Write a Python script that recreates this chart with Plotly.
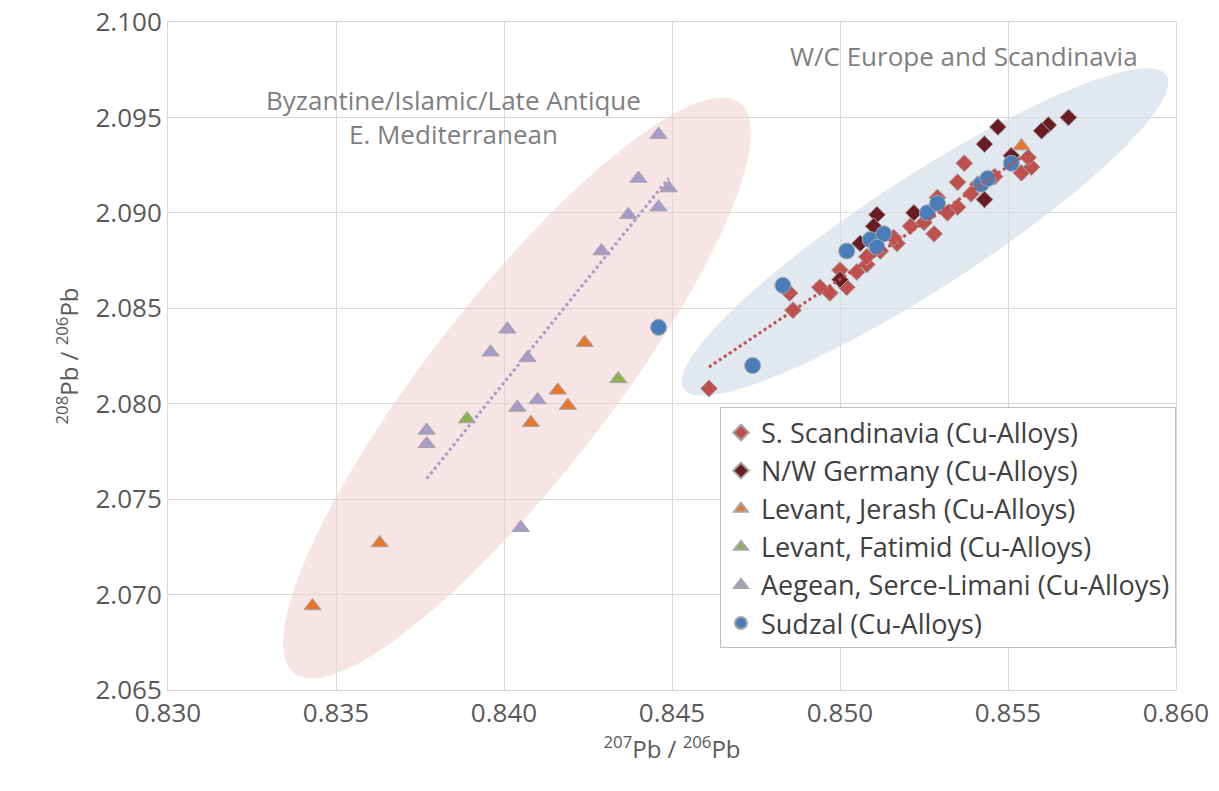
import numpy as np
import plotly.graph_objects as go

# S. Scandinavia (Cu-Alloys)
scand_x = [0.8461, 0.8486, 0.8485, 0.8494, 0.8497, 0.8502, 0.8505, 0.8508, 0.8512, 0.8517,
           0.8521, 0.8525, 0.8528, 0.8529, 0.8535, 0.8535, 0.8537, 0.8539, 0.8541, 0.8554,
           0.8557, 0.8556, 0.8508, 0.8516, 0.8532, 0.8500, 0.8546]
scand_y = [2.0808, 2.0849, 2.0858, 2.0861, 2.0858, 2.0861, 2.0869, 2.0873, 2.0880, 2.0884,
           2.0893, 2.0895, 2.0889, 2.0908, 2.0903, 2.0916, 2.0926, 2.0910, 2.0915, 2.0921,
           2.0924, 2.0929, 2.0877, 2.0887, 2.0900, 2.0870, 2.0919]
# N/W Germany (Cu-Alloys)
germ_x = [0.8568, 0.8562, 0.8560, 0.8547, 0.8543, 0.8543, 0.8511, 0.8522, 0.8510, 0.8506, 0.8500, 0.8551]
germ_y = [2.0950, 2.0946, 2.0943, 2.0945, 2.0936, 2.0907, 2.0899, 2.0900, 2.0893, 2.0884, 2.0865, 2.0930]
# Levant, Jerash (Cu-Alloys)
jerash_x = [0.8424, 0.8416, 0.8419, 0.8408, 0.8363, 0.8343, 0.8554]
jerash_y = [2.0832, 2.0807, 2.0799, 2.0790, 2.0727, 2.0694, 2.0935]
# Levant, Fatimid (Cu-Alloys)
fatimid_x = [0.8389, 0.8434]
fatimid_y = [2.0792, 2.0813]
# Aegean, Serce-Limani (Cu-Alloys)
aegean_x = [0.8446, 0.8440, 0.8449, 0.8446, 0.8437, 0.8429, 0.8401, 0.8396, 0.8407, 0.8404,
            0.8410, 0.8377, 0.8377, 0.8405]
aegean_y = [2.0941, 2.0918, 2.0913, 2.0903, 2.0899, 2.0880, 2.0839, 2.0827, 2.0824, 2.0798,
            2.0802, 2.0786, 2.0779, 2.0735]
# Sudzal (Cu-Alloys)
sudzal_x = [0.8446, 0.8483, 0.8474, 0.8502, 0.8509, 0.8513, 0.8511, 0.8526, 0.8529, 0.8542, 0.8544, 0.8551]
sudzal_y = [2.0840, 2.0862, 2.0820, 2.0880, 2.0886, 2.0889, 2.0882, 2.0900, 2.0905, 2.0915, 2.0918, 2.0926]
y_ticks = [2.065, 2.070, 2.075, 2.080, 2.085, 2.090, 2.095, 2.100]

# plot area in pixels (page coords), used to draw the rotated ellipses
L, R, T, B = 168, 1176, 22, 690
X0, X1, Y0, Y1 = 0.830, 0.8600001, 2.065, 2.1000001
PAD = 8  # body margin of the page


def ellipse_path(cx, cy, a, b, ang):
    t = np.linspace(0, 2 * np.pi, 80)
    th = np.radians(ang)
    px = cx + a * np.cos(t) * np.cos(th) - b * np.sin(t) * np.sin(th)
    py = cy - (a * np.cos(t) * np.sin(th) + b * np.sin(t) * np.cos(th))
    xs = X0 + (px - L) / (R - L) * (X1 - X0)
    ys = Y1 - (py - T) / (B - T) * (Y1 - Y0)
    return "M " + " L ".join(f"{x:.6f},{y:.6f}" for x, y in zip(xs, ys)) + " Z"


fig = go.Figure()

line_col = "#a6a6a6"
series = [
    ("S. Scandinavia (Cu-Alloys)", scand_x, scand_y, "diamond", "#C0504D", 13),
    ("N/W Germany (Cu-Alloys)", germ_x, germ_y, "diamond", "#6B1C22", 13),
    ("Levant, Jerash (Cu-Alloys)", jerash_x, jerash_y, "triangle-up", "#E8762B", 15),
    ("Levant, Fatimid (Cu-Alloys)", fatimid_x, fatimid_y, "triangle-up", "#8DB255", 15),
    ("Aegean, Serce-Limani (Cu-Alloys)", aegean_x, aegean_y, "triangle-up", "#A99BC8", 15),
    ("Sudzal (Cu-Alloys)", sudzal_x, sudzal_y, "circle", "#4A7EBB", 16),
]
for name, xs, ys, sym, col, sz in series:
    fig.add_trace(go.Scatter(x=xs, y=ys, mode="markers", name=name,
                             marker=dict(symbol=sym, color=col, size=sz,
                                         line=dict(color=line_col, width=1))))

# dotted trend lines
for xs, ys, col in [(aegean_x, aegean_y, "#A99BC8"), (scand_x, scand_y, "#C0504D")]:
    k, c = np.polyfit(xs, ys, 1)
    tx = np.array([min(xs), max(xs)])
    fig.add_trace(go.Scatter(x=tx, y=k * tx + c, mode="lines", showlegend=False,
                             line=dict(color=col, width=3, dash="dot"), hoverinfo="skip"))

fig.add_shape(type="path", path=ellipse_path(517, 388, 362, 90, 52),
              fillcolor="rgba(232,180,180,0.35)", line=dict(width=0), layer="below")
fig.add_shape(type="path", path=ellipse_path(925, 232, 288, 56, 33),
              fillcolor="rgba(170,190,210,0.35)", line=dict(width=0), layer="below")

fig.add_annotation(x=0.8385, y=2.0950, text="Byzantine/Islamic/Late Antique<br>E. Mediterranean",
                   showarrow=False, font=dict(size=26, color="#7f7f7f"))
fig.add_annotation(x=0.8537, y=2.0982, text="W/C Europe and Scandinavia",
                   showarrow=False, font=dict(size=26, color="#7f7f7f"))

fig.update_layout(
    width=1219, height=791,
    margin=dict(l=L - PAD, r=1219 - R + PAD, t=T - PAD, b=791 - B + PAD, autoexpand=False),
    paper_bgcolor="white", plot_bgcolor="white",
    font=dict(family="Open Sans, sans-serif", size=26, color="#595959"),
    xaxis=dict(range=[X0, X1], dtick=0.005, tickformat=".3f", showgrid=True,
               gridcolor="#d9d9d9", zeroline=False, ticks="", showline=True,
               linecolor="#d9d9d9", mirror=True, automargin=False,
               tickfont=dict(size=26), ticklabeloverflow="allow",
               title=dict(text="<sup>207</sup>Pb / <sup>206</sup>Pb", standoff=6,
                          font=dict(size=24))),
    yaxis=dict(range=[Y0, Y1], tickmode="array", tickvals=y_ticks,
               ticktext=[f"{v:.3f}" for v in y_ticks], showgrid=True,
               gridcolor="#d9d9d9", zeroline=False, ticks="", showline=True,
               linecolor="#d9d9d9", mirror=True, automargin=False,
               tickfont=dict(size=26), ticklabeloverflow="allow",
               title=dict(text="<sup>208</sup>Pb / <sup>206</sup>Pb", standoff=10,
                          font=dict(size=24))),
    legend=dict(x=1, y=0.423, xanchor="right", yanchor="top",
                bgcolor="white", bordercolor="#bfbfbf", borderwidth=1,
                font=dict(size=27, color="#404040"), tracegroupgap=2, itemsizing="constant"),
)

fig.write_html("out.html")
